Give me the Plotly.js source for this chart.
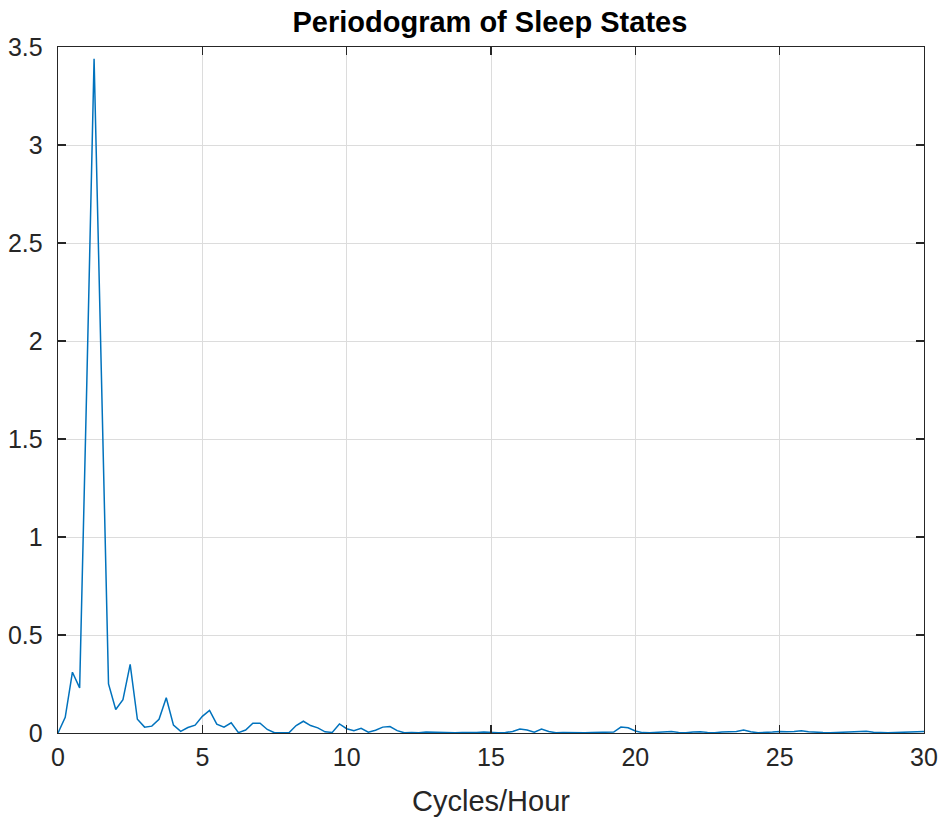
<!DOCTYPE html>
<html>
<head>
<meta charset="utf-8">
<script src="https://cdn.plot.ly/plotly-3.0.1.min.js"></script>
<style>html,body{margin:0;padding:0;background:#fff;}#chart{width:943px;height:820px;}</style>
</head>
<body>
<div id="chart"></div>
<script>
// Frequencies (cycles/hour), step 0.25 from 0 to 30
const freqStep = 0.25;
const power = [
  0, 0.08, 0.31, 0.23, 1.80, 3.44, 1.85, 0.25, 0.12, 0.17,
  0.35, 0.07, 0.03, 0.035, 0.07, 0.18, 0.04, 0.008, 0.028, 0.04,
  0.085, 0.115, 0.045, 0.03, 0.052, 0.002, 0.015, 0.05, 0.05, 0.018,
  0.001, 0.002, 0.001, 0.038, 0.06, 0.038, 0.026, 0.006, 0.003, 0.046,
  0.022, 0.012, 0.024, 0.004, 0.014, 0.03, 0.033, 0.012, 0.001, 0.002,
  0.001, 0.005, 0.004, 0.001, 0.002, 0.001, 0.002, 0.001, 0.002, 0.005,
  0.002, 0.001, 0.002, 0.008, 0.02, 0.015, 0.004, 0.02, 0.008, 0.001,
  0.002, 0.001, 0.002, 0.001, 0.002, 0.002, 0.003, 0.005, 0.03, 0.027,
  0.01, 0.002, 0.001, 0.004, 0.007, 0.008, 0.003, 0.001, 0.005, 0.007,
  0.003, 0.001, 0.005, 0.007, 0.008, 0.015, 0.006, 0.001, 0.002, 0.005,
  0.008, 0.006, 0.008, 0.012, 0.007, 0.003, 0.002, 0.001, 0.002, 0.003,
  0.004, 0.006, 0.009, 0.004, 0.002, 0.001, 0.002, 0.004, 0.006, 0.005,
  0.008
];
const freqs = power.map((_, i) => i * freqStep);
const xTicks = [0, 5, 10, 15, 20, 25, 30];
const yTicks = [0, 0.5, 1, 1.5, 2, 2.5, 3, 3.5];
const yTickText = ["0", "0.5", "1", "1.5", "2", "2.5", "3", "3.5"];
const titleText = "Periodogram of Sleep States";
const xLabel = "Cycles/Hour";

const FONT = "Liberation Sans, Arial, sans-serif";
const axisCommon = {
  showline: true, mirror: "allticks", linecolor: "#262626", linewidth: 1.3,
  ticks: "inside", ticklen: 8, tickwidth: 1.3, tickcolor: "#262626",
  showgrid: true, gridcolor: "#dcdcdc", gridwidth: 1, zeroline: false,
  tickfont: {family: FONT, size: 25, color: "#262626"}
};

Plotly.newPlot("chart", [{
  x: freqs, y: power, type: "scatter", mode: "lines",
  line: {color: "#0072BD", width: 1.5}, hoverinfo: "skip"
}], {
  width: 943, height: 820,
  margin: {l: 58, r: 19, t: 47, b: 87},
  paper_bgcolor: "#fff", plot_bgcolor: "#fff",
  showlegend: false,
  title: {text: "<b>" + titleText + "</b>", x: 0.5195, xanchor: "center", y: 0.973, yanchor: "middle", yref: "container",
    font: {family: FONT, size: 29, color: "#000"}},
  xaxis: Object.assign({}, axisCommon, {
    range: [0, 30], tickvals: xTicks, ticktext: xTicks.map(String),
    ticklabelstandoff: 2,
    title: {text: xLabel, standoff: 20, font: {family: FONT, size: 29, color: "#262626"}}
  }),
  yaxis: Object.assign({}, axisCommon, {
    range: [0, 3.5], tickvals: yTicks, ticktext: yTickText,
    ticklabelstandoff: 9
  })
}, {staticPlot: true});
</script>
</body>
</html>
